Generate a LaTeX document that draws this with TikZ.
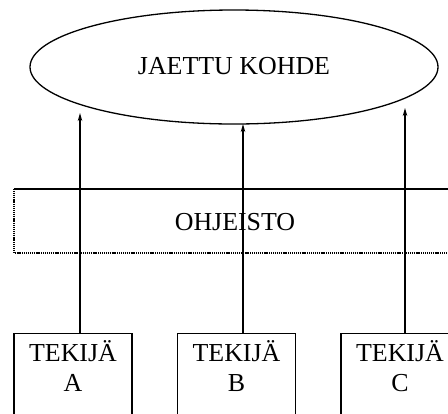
\documentclass[tikz,border=0pt]{standalone}
\usepackage{fontspec}
\setmainfont{Liberation Serif}
\usetikzlibrary{shapes.geometric,arrows.meta}
\begin{document}
\begin{tikzpicture}[x=1bp,y=-1bp,
  every node/.style={font=\fontsize{26}{30}\selectfont},
  obj/.style={draw, line width=1.3bp, ellipse, minimum width=408bp, minimum height=114bp, inner sep=0pt},
  actor/.style={draw, line width=1.2bp, rectangle, minimum width=118bp, minimum height=110bp, anchor=north, inner sep=0pt},
  actortext/.style={anchor=north, align=center, inner sep=0pt},
  link/.style={line width=1.7bp, -{Stealth[length=8bp,width=4.5bp]}},
  rulebox/.style={line width=1.3bp, dash pattern=on 1.1bp off 0.8bp}]
\useasboundingbox (0,0) rectangle (448,413);
% shared object
\node[obj] (kohde) at (234,67) {\raisebox{2bp}{JAETTU KOHDE}};
% instruction layer
\node[inner sep=0pt] (ohje) at (235,222) {OHJEISTO};
\draw[rulebox] (14,189) -- (14,253) -- (470,253);
\draw[line width=1.2bp] (14,189) -- (470,189);
% actors
\node[actor] (ta) at (73,333) {};
\node[actor] (tb) at (236.5,333) {};
\node[actor] (tc) at (400,333) {};
\node[actortext] at ([yshift=-7bp]ta.north) {TEKIJÄ\\A};
\node[actortext] at ([yshift=-7bp]tb.north) {TEKIJÄ\\B};
\node[actortext] at ([yshift=-7bp]tc.north) {TEKIJÄ\\C};
% arrow ends just below the ellipse
\coordinate (ea) at (80,113);
\coordinate (eb) at (243,124);
\coordinate (ec) at (405,108);
\draw[link] (ta.north -| ea) -- (ea);
\draw[link] (tb.north -| eb) -- (eb);
\draw[link] (tc.north -| ec) -- (ec);
\end{tikzpicture}
\end{document}
